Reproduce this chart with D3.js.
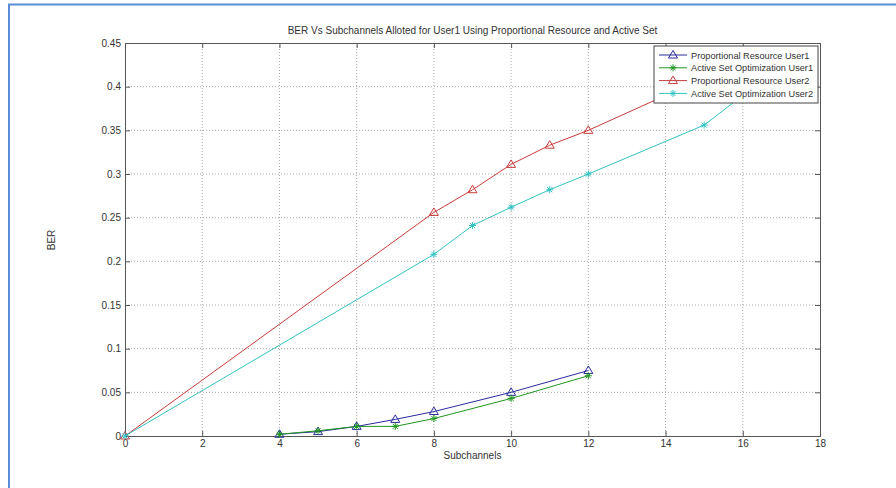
<!DOCTYPE html>
<html lang="en">
<head>
<meta charset="UTF-8">
<title>BER vs Subchannels</title>
<script src="https://cdn.jsdelivr.net/npm/d3@7"></script>
<style>
  body { margin: 0; background: #fff; }
  svg { display: block; }
  text { font-family: "Liberation Sans", Arial, sans-serif; fill: #333; }
</style>
</head>
<body>
<svg id="chart" width="896" height="488"></svg>
<script>
  const xTicks = [0, 2, 4, 6, 8, 10, 12, 14, 16, 18];
  const yTicks = [0, 0.05, 0.1, 0.15, 0.2, 0.25, 0.3, 0.35, 0.4, 0.45];

  const propUser1X = [4, 5, 6, 7, 8, 10, 12];
  const propUser1Y = [0.002, 0.005, 0.011, 0.019, 0.028, 0.050, 0.075];
  const activeUser1X = [4, 5, 6, 7, 8, 10, 12];
  const activeUser1Y = [0.002, 0.006, 0.011, 0.011, 0.020, 0.043, 0.069];
  const propUser2X = [0, 8, 9, 10, 11, 12, 14, 16];
  const propUser2Y = [0, 0.256, 0.282, 0.311, 0.333, 0.350, 0.390, 0.425];
  const activeUser2X = [0, 8, 9, 10, 11, 12, 15, 16, 17];
  const activeUser2Y = [0, 0.208, 0.241, 0.262, 0.282, 0.300, 0.356, 0.390, 0.425];

  const seriesNames = ['Proportional Resource User1', 'Active Set Optimization User1',
                       'Proportional Resource User2', 'Active Set Optimization User2'];
  const seriesColors = ['#2a2aa0', '#1f951f', '#c83c3c', '#33c2c2'];
  const seriesMarkers = ['tri', 'star', 'tri', 'star'];
  const seriesX = [propUser1X, activeUser1X, propUser2X, activeUser2X];
  const seriesY = [propUser1Y, activeUser1Y, propUser2Y, activeUser2Y];

  const svg = d3.select('#chart');
  const pL = 125, pR = 820, pT = 43, pB = 436;

  // page frame
  svg.append('path').attr('d', 'M9,488 V4.5 H896')
    .attr('fill', 'none').attr('stroke', '#5b8ed8').attr('stroke-width', 2);

  const x = d3.scaleLinear().domain([0, 18]).range([pL, pR]);
  const y = d3.scaleLinear().domain([0, 0.45]).range([pB, pT]);

  // grid
  const grid = svg.append('g');
  grid.selectAll('.gx').data(xTicks.slice(1, -1)).enter().append('line')
    .attr('x1', d => x(d)).attr('x2', d => x(d)).attr('y1', pT).attr('y2', pB)
    .attr('stroke', '#aaa').attr('stroke-width', 1).attr('stroke-dasharray', '1,2');
  grid.selectAll('.gy').data(yTicks.slice(1, -1)).enter().append('line')
    .attr('y1', d => y(d)).attr('y2', d => y(d)).attr('x1', pL).attr('x2', pR)
    .attr('stroke', '#aaa').attr('stroke-width', 1).attr('stroke-dasharray', '1,2');

  // axes (MATLAB style, ticks inward, box on)
  const fmt = d => d === 0 ? '0' : String(+d.toFixed(2));
  const axB = svg.append('g').attr('transform', `translate(0,${pB})`)
    .call(d3.axisBottom(x).tickValues(xTicks).tickSize(-5).tickPadding(4).tickFormat(fmt));
  const axT = svg.append('g').attr('transform', `translate(0,${pT})`)
    .call(d3.axisTop(x).tickValues(xTicks).tickSize(-5).tickFormat(''));
  const axL = svg.append('g').attr('transform', `translate(${pL},0)`)
    .call(d3.axisLeft(y).tickValues(yTicks).tickSize(-5).tickPadding(4).tickFormat(fmt));
  const axR = svg.append('g').attr('transform', `translate(${pR},0)`)
    .call(d3.axisRight(y).tickValues(yTicks).tickSize(-5).tickFormat(''));
  [axB, axT, axL, axR].forEach(a => {
    a.select('.domain').attr('stroke', '#555');
    a.selectAll('.tick line').attr('stroke', '#555');
    a.selectAll('text').attr('font-size', 10).attr('fill', '#333')
      .attr('font-family', '"Liberation Sans", Arial, sans-serif');
  });

  // labels
  svg.append('text').attr('x', (pL + pR) / 2).attr('y', 34).attr('text-anchor', 'middle')
    .attr('font-size', 10).text('BER Vs Subchannels Alloted for User1 Using Proportional Resource and Active Set');
  svg.append('text').attr('x', (pL + pR) / 2).attr('y', 459).attr('text-anchor', 'middle')
    .attr('font-size', 10).text('Subchannels');
  svg.append('text').attr('transform', 'translate(55,240) rotate(-90)').attr('text-anchor', 'middle')
    .attr('font-size', 10).text('BER');

  function marker(g, type, color, cx, cy) {
    if (type === 'tri') {
      g.append('path').attr('d', `M${cx},${cy - 4.5} L${cx + 4.5},${cy + 3} L${cx - 4.5},${cy + 3} Z`)
        .attr('fill', 'none').attr('stroke', color).attr('stroke-width', 1);
    } else {
      g.append('path')
        .attr('d', `M${cx - 3.5},${cy} H${cx + 3.5} M${cx},${cy - 3.5} V${cy + 3.5} M${cx - 2.5},${cy - 2.5} L${cx + 2.5},${cy + 2.5} M${cx - 2.5},${cy + 2.5} L${cx + 2.5},${cy - 2.5}`)
        .attr('stroke', color).attr('stroke-width', 1);
    }
  }

  const plot = svg.append('g');
  const line = d3.line().x(d => x(d[0])).y(d => y(d[1]));
  seriesNames.forEach((name, i) => {
    const pts = seriesX[i].map((v, j) => [v, seriesY[i][j]]);
    const g = plot.append('g');
    g.append('path').datum(pts).attr('d', line)
      .attr('fill', 'none').attr('stroke', seriesColors[i]).attr('stroke-width', 1);
    pts.forEach(p => marker(g, seriesMarkers[i], seriesColors[i], x(p[0]), y(p[1])));
  });

  // legend
  const lg = svg.append('g').attr('transform', 'translate(654,46)');
  lg.append('rect').attr('width', 164).attr('height', 57)
    .attr('fill', '#fff').attr('stroke', '#444').attr('stroke-width', 1);
  seriesNames.forEach((name, i) => {
    const ry = 9 + i * 12.8;
    lg.append('line').attr('x1', 5).attr('x2', 33).attr('y1', ry).attr('y2', ry)
      .attr('stroke', seriesColors[i]).attr('stroke-width', 1);
    marker(lg, seriesMarkers[i], seriesColors[i], 19, ry);
    lg.append('text').attr('x', 37).attr('y', ry + 3.5).attr('font-size', 9.2).text(name);
  });
</script>
</body>
</html>
